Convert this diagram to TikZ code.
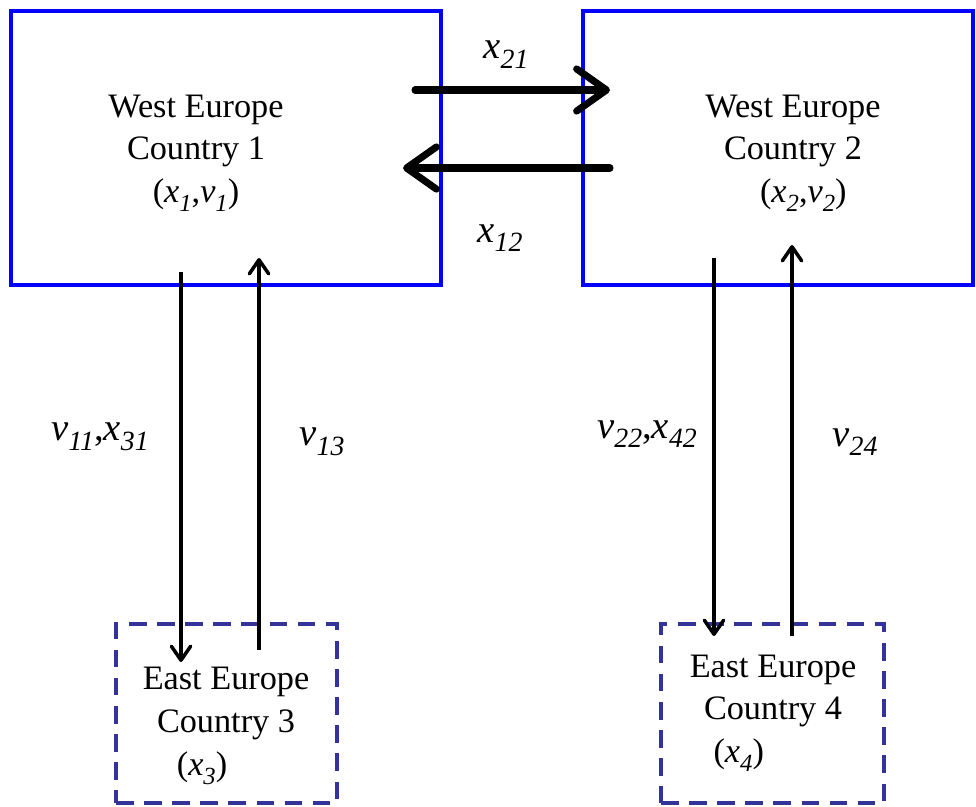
\documentclass[tikz,border=0pt]{standalone}
\usepackage{fontspec}
\setmainfont{Liberation Serif}
\usetikzlibrary{arrows.meta}
\definecolor{eastblue}{RGB}{51,51,153}
\newcommand{\sbi}[2]{\textit{#1}\raisebox{-0.55ex}{\scalebox{0.72}{\textit{#2}}}}
\begin{document}
\begin{tikzpicture}[x=0.02cm, y=-0.02cm,
    every node/.style={font=\fontsize{19.5}{24.4}\selectfont, align=center},
    flowlabel/.style={font=\fontsize{22}{26}\selectfont},
    westbox/.style={draw=blue, line width=2.3pt, minimum height=5.48cm, inner sep=0pt},
    eastbox/.style={draw=eastblue, line width=2pt, dash pattern=on 10pt off 6pt,
        minimum height=3.58cm, inner sep=0pt},
    flow/.style={line width=4pt, line cap=round, -{Straight Barb[length=17pt, width=24pt, round]}},
    link/.style={line width=2pt, -{Straight Barb[length=8pt, width=11pt, round]}}]
    \useasboundingbox (0,0) rectangle (976,806);
    % countries
    \node [westbox, minimum width=8.6cm] (c1) at (226,148) {};
    \node [westbox, minimum width=7.8cm] (c2) at (778,148) {};
    \node [eastbox, minimum width=4.42cm] (c3) at (226.5,713.5) {};
    \node [eastbox, minimum width=4.46cm] (c4) at (772.5,713.5) {};
    \node (t1) at (196,153) {West Europe\\Country 1\\(\sbi{x}{1},\sbi{v}{1})};
    \node (t2) at (793,153) {West Europe\\Country 2\\\hspace*{0.6em}(\sbi{x}{2},\sbi{v}{2})};
    \node (t3) at (226,726) {East Europe\\Country 3\\(\sbi{x}{3})\hspace*{1.4em}};
    \node (t4) at (773,713) {East Europe\\Country 4\\(\sbi{x}{4})\hspace*{2em}};
    % arrow ends
    \coordinate (p1) at (415,90);
    \coordinate (p2) at (610,90);
    \coordinate (q1) at (610,168);
    \coordinate (q2) at (403,168);
    \coordinate (d1) at (181,272);
    \coordinate (d3) at (181,662);
    \coordinate (u3) at (259,650);
    \coordinate (u1) at (259,258);
    \coordinate (d2) at (714,258);
    \coordinate (d4) at (714,636);
    \coordinate (u4) at (792,636);
    \coordinate (u2) at (792,245);
    \draw [flow] (p1) -- (p2);
    \draw [flow] (q1) -- (q2);
    \draw [link] (d1) -- (d3);
    \draw [link] (u3) -- (u1);
    \draw [link] (d2) -- (d4);
    \draw [link] (u4) -- (u2);
    % flow labels
    \node [flowlabel] (l21) at (506,55) {\sbi{x}{21}};
    \node [flowlabel] (l12) at (500,238) {\sbi{x}{12}};
    \node [flowlabel] (l13a) at (100,437) {\sbi{v}{11},\sbi{x}{31}};
    \node [flowlabel] (l13b) at (322,442) {\sbi{v}{13}};
    \node [flowlabel] (l24a) at (647,434) {\sbi{v}{22},\sbi{x}{42}};
    \node [flowlabel] (l24b) at (855,442) {\sbi{v}{24}};
\end{tikzpicture}
\end{document}
